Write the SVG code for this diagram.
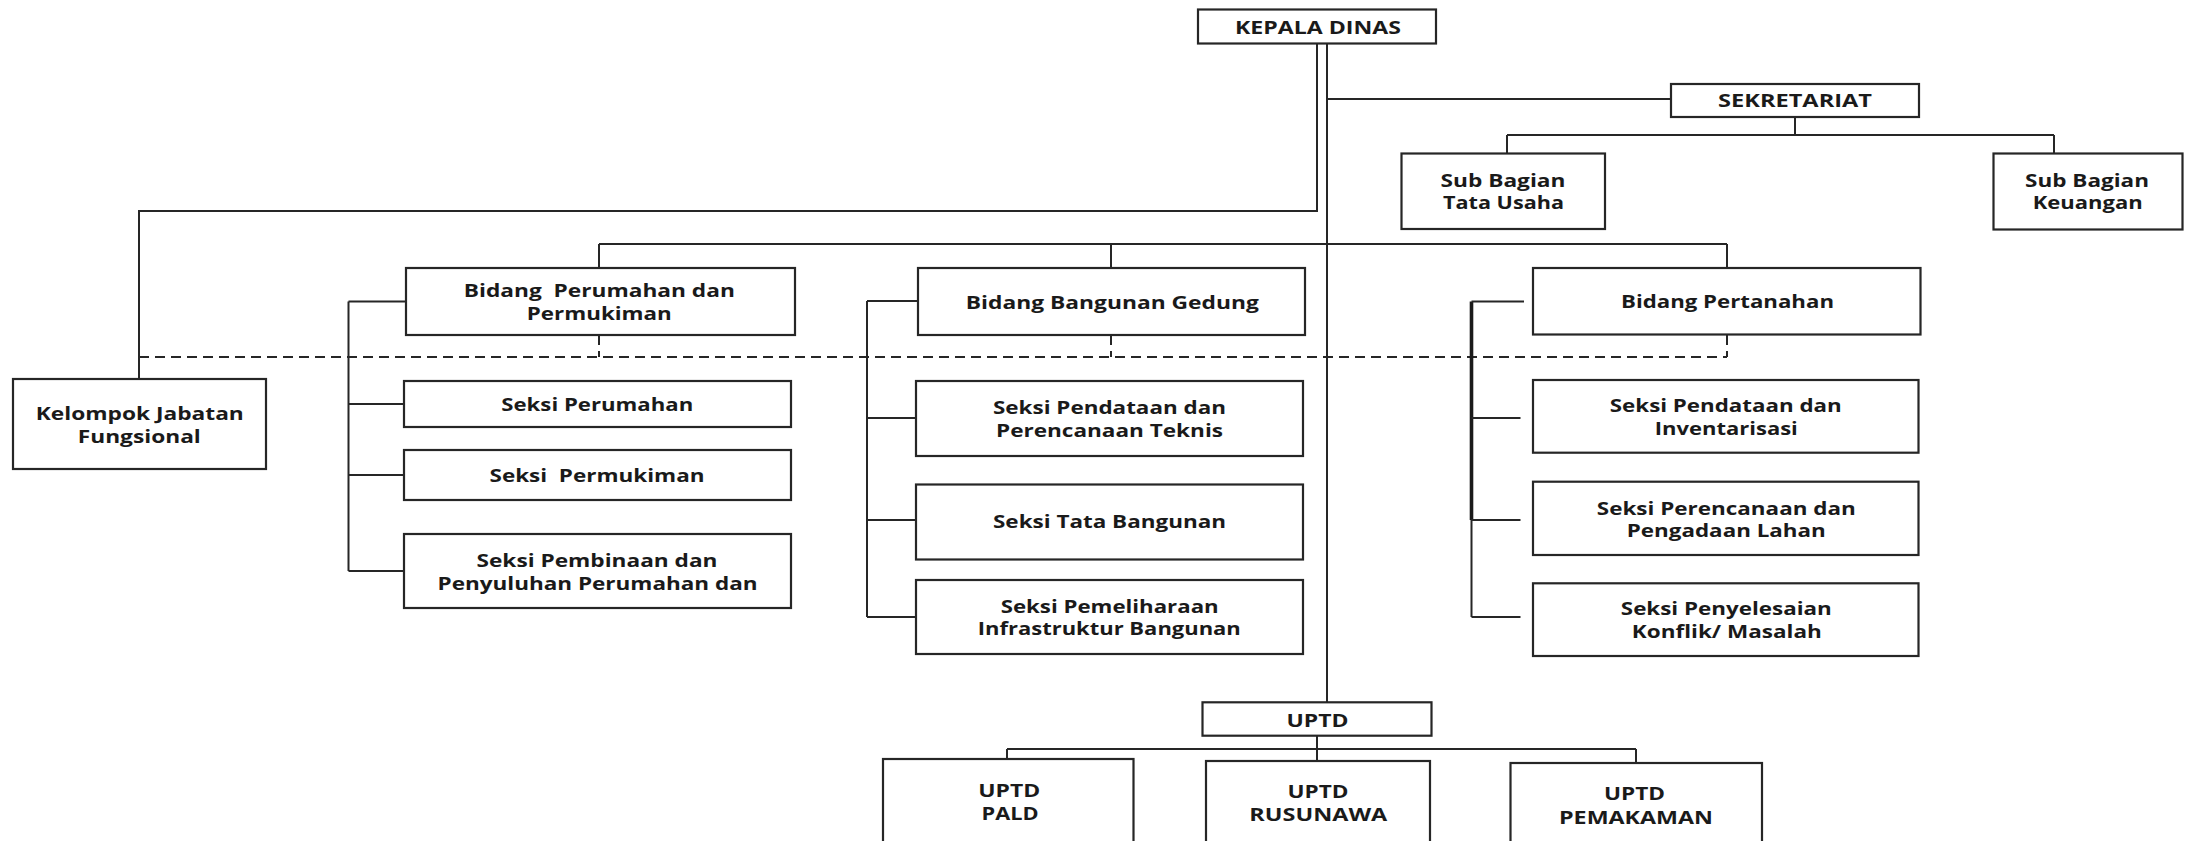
<svg xmlns="http://www.w3.org/2000/svg" width="2187" height="841" viewBox="0 0 2187 841">
<style>
.box{fill:#fff;stroke:#262626;stroke-width:2.2}
.ln{fill:none;stroke:#262626;stroke-width:2}
.thick{fill:none;stroke:#1a1a1a;stroke-width:3.6}
.dash{fill:none;stroke:#262626;stroke-width:2;stroke-dasharray:10 6}
.t{font-family:"Open Sans","Noto Sans",sans-serif;font-weight:700;font-size:18.5px;fill:#1a1a1a;text-anchor:middle}
</style>
<rect width="2187" height="841" fill="#fff"/>
<g id="connectors">
<path class="ln" d="M1317,44 V211 H139 V379"/>
<path class="ln" d="M1327,44 V702"/>
<path class="ln" d="M1327,99 H1671"/>
<path class="ln" d="M1795,117 V135 M1507,135 H2054 M1507,135 V153 M2054,135 V153"/>
<path class="ln" d="M599,244 H1727 M599,244 V268 M1111,244 V268 M1727,244 V268"/>
<path class="dash" d="M139,357 H1727 M599,335 V357 M1111,335 V357 M1727,335 V357"/>
<path class="ln" d="M348.5,301.5 V571 M348.5,301.5 H406 M348.5,404 H404 M348.5,475 H404 M348.5,571 H404"/>
<path class="ln" d="M867,301 V617 M867,301 H918 M867,418 H916 M867,520 H916 M867,617 H916"/>
<path class="thick" d="M1471.5,301.5 V520"/>
<path class="ln" d="M1471.5,520 V617 M1471.5,301.5 H1524 M1471.5,418 H1520.5 M1471.5,520 H1520.5 M1471.5,617 H1520.5"/>
<path class="ln" d="M1317,736 V749 M1007,749 H1636 M1007,749 V759 M1317,749 V761 M1636,749 V763"/>
</g>
<g id="kepala-dinas"><rect class="box" x="1198" y="9.5" width="238" height="34"/><text class="t" x="1318" y="34" textLength="166" lengthAdjust="spacingAndGlyphs">KEPALA DINAS</text></g>
<g id="sekretariat"><rect class="box" x="1671" y="84" width="248" height="33"/><text class="t" x="1795" y="106.5" textLength="154" lengthAdjust="spacingAndGlyphs">SEKRETARIAT</text></g>
<g id="sub-tata-usaha"><rect class="box" x="1401.5" y="153.5" width="203.5" height="75.5"/><text class="t" x="1503" y="186.7" textLength="125" lengthAdjust="spacingAndGlyphs">Sub Bagian</text><text class="t" x="1503.5" y="209" textLength="121" lengthAdjust="spacingAndGlyphs">Tata Usaha</text></g>
<g id="sub-keuangan"><rect class="box" x="1993.5" y="153.5" width="189" height="76"/><text class="t" x="2087" y="186.7" textLength="124" lengthAdjust="spacingAndGlyphs">Sub Bagian</text><text class="t" x="2087.7" y="209" textLength="110" lengthAdjust="spacingAndGlyphs">Keuangan</text></g>
<g id="kelompok"><rect class="box" x="13" y="379" width="253" height="90"/><text class="t" x="139.8" y="419.5" textLength="208" lengthAdjust="spacingAndGlyphs">Kelompok Jabatan</text><text class="t" x="139.3" y="442.5" textLength="123" lengthAdjust="spacingAndGlyphs">Fungsional</text></g>
<g id="bidang-perumahan"><rect class="box" x="406" y="268" width="389" height="67"/><text class="t" x="599.3" y="297" textLength="271" lengthAdjust="spacingAndGlyphs" xml:space="preserve">Bidang  Perumahan dan</text><text class="t" x="599.3" y="320" textLength="145" lengthAdjust="spacingAndGlyphs">Permukiman</text></g>
<g id="seksi-perumahan"><rect class="box" x="404" y="381" width="387" height="46"/><text class="t" x="597.3" y="410.5" textLength="192" lengthAdjust="spacingAndGlyphs">Seksi Perumahan</text></g>
<g id="seksi-permukiman"><rect class="box" x="404" y="450" width="387" height="50"/><text class="t" x="597" y="481.5" textLength="215" lengthAdjust="spacingAndGlyphs" xml:space="preserve">Seksi  Permukiman</text></g>
<g id="seksi-pembinaan"><rect class="box" x="404" y="534" width="387" height="74"/><text class="t" x="597" y="566.5" textLength="241" lengthAdjust="spacingAndGlyphs">Seksi Pembinaan dan</text><text class="t" x="597.6" y="589.5" textLength="320" lengthAdjust="spacingAndGlyphs">Penyuluhan Perumahan dan</text></g>
<g id="bidang-bangunan"><rect class="box" x="918" y="268" width="387" height="67"/><text class="t" x="1112.3" y="308.5" textLength="293" lengthAdjust="spacingAndGlyphs">Bidang Bangunan Gedung</text></g>
<g id="seksi-pendataan-teknis"><rect class="box" x="916" y="381" width="387" height="75"/><text class="t" x="1109.5" y="413.5" textLength="233" lengthAdjust="spacingAndGlyphs">Seksi Pendataan dan</text><text class="t" x="1109.5" y="436.7" textLength="227" lengthAdjust="spacingAndGlyphs">Perencanaan Teknis</text></g>
<g id="seksi-tata-bangunan"><rect class="box" x="916" y="484.5" width="387" height="75"/><text class="t" x="1109.5" y="528" textLength="233" lengthAdjust="spacingAndGlyphs">Seksi Tata Bangunan</text></g>
<g id="seksi-pemeliharaan"><rect class="box" x="916" y="580" width="387" height="74"/><text class="t" x="1109.7" y="612.7" textLength="218" lengthAdjust="spacingAndGlyphs">Seksi Pemeliharaan</text><text class="t" x="1109.3" y="635" textLength="263" lengthAdjust="spacingAndGlyphs">Infrastruktur Bangunan</text></g>
<g id="bidang-pertanahan"><rect class="box" x="1533" y="268" width="387.5" height="66.5"/><text class="t" x="1727.5" y="308.3" textLength="213" lengthAdjust="spacingAndGlyphs">Bidang Pertanahan</text></g>
<g id="seksi-pendataan-inventarisasi"><rect class="box" x="1533" y="380" width="385.5" height="72.7"/><text class="t" x="1725.8" y="412.3" textLength="232" lengthAdjust="spacingAndGlyphs">Seksi Pendataan dan</text><text class="t" x="1726.3" y="435" textLength="143" lengthAdjust="spacingAndGlyphs">Inventarisasi</text></g>
<g id="seksi-perencanaan-lahan"><rect class="box" x="1533" y="481.7" width="385.5" height="73.3"/><text class="t" x="1726.3" y="514.5" textLength="259" lengthAdjust="spacingAndGlyphs">Seksi Perencanaan dan</text><text class="t" x="1726.3" y="537" textLength="199" lengthAdjust="spacingAndGlyphs">Pengadaan Lahan</text></g>
<g id="seksi-penyelesaian"><rect class="box" x="1533" y="583.3" width="385.5" height="72.7"/><text class="t" x="1726.3" y="615" textLength="211" lengthAdjust="spacingAndGlyphs">Seksi Penyelesaian</text><text class="t" x="1726.8" y="637.5" textLength="190" lengthAdjust="spacingAndGlyphs">Konflik/ Masalah</text></g>
<g id="uptd"><rect class="box" x="1202.5" y="702.3" width="229" height="33.4"/><text class="t" x="1317.5" y="727" textLength="62" lengthAdjust="spacingAndGlyphs">UPTD</text></g>
<g id="uptd-pald"><rect class="box" x="883" y="759" width="250.5" height="95"/><text class="t" x="1009.2" y="797" textLength="62" lengthAdjust="spacingAndGlyphs">UPTD</text><text class="t" x="1010" y="819.5" textLength="57" lengthAdjust="spacingAndGlyphs">PALD</text></g>
<g id="uptd-rusunawa"><rect class="box" x="1206" y="761" width="224" height="95"/><text class="t" x="1318" y="797.5" textLength="61" lengthAdjust="spacingAndGlyphs">UPTD</text><text class="t" x="1318.3" y="821" textLength="138" lengthAdjust="spacingAndGlyphs">RUSUNAWA</text></g>
<g id="uptd-pemakaman"><rect class="box" x="1510.5" y="763" width="251.5" height="95"/><text class="t" x="1634.5" y="799.5" textLength="61" lengthAdjust="spacingAndGlyphs">UPTD</text><text class="t" x="1636" y="823.5" textLength="154" lengthAdjust="spacingAndGlyphs">PEMAKAMAN</text></g>
</svg>
